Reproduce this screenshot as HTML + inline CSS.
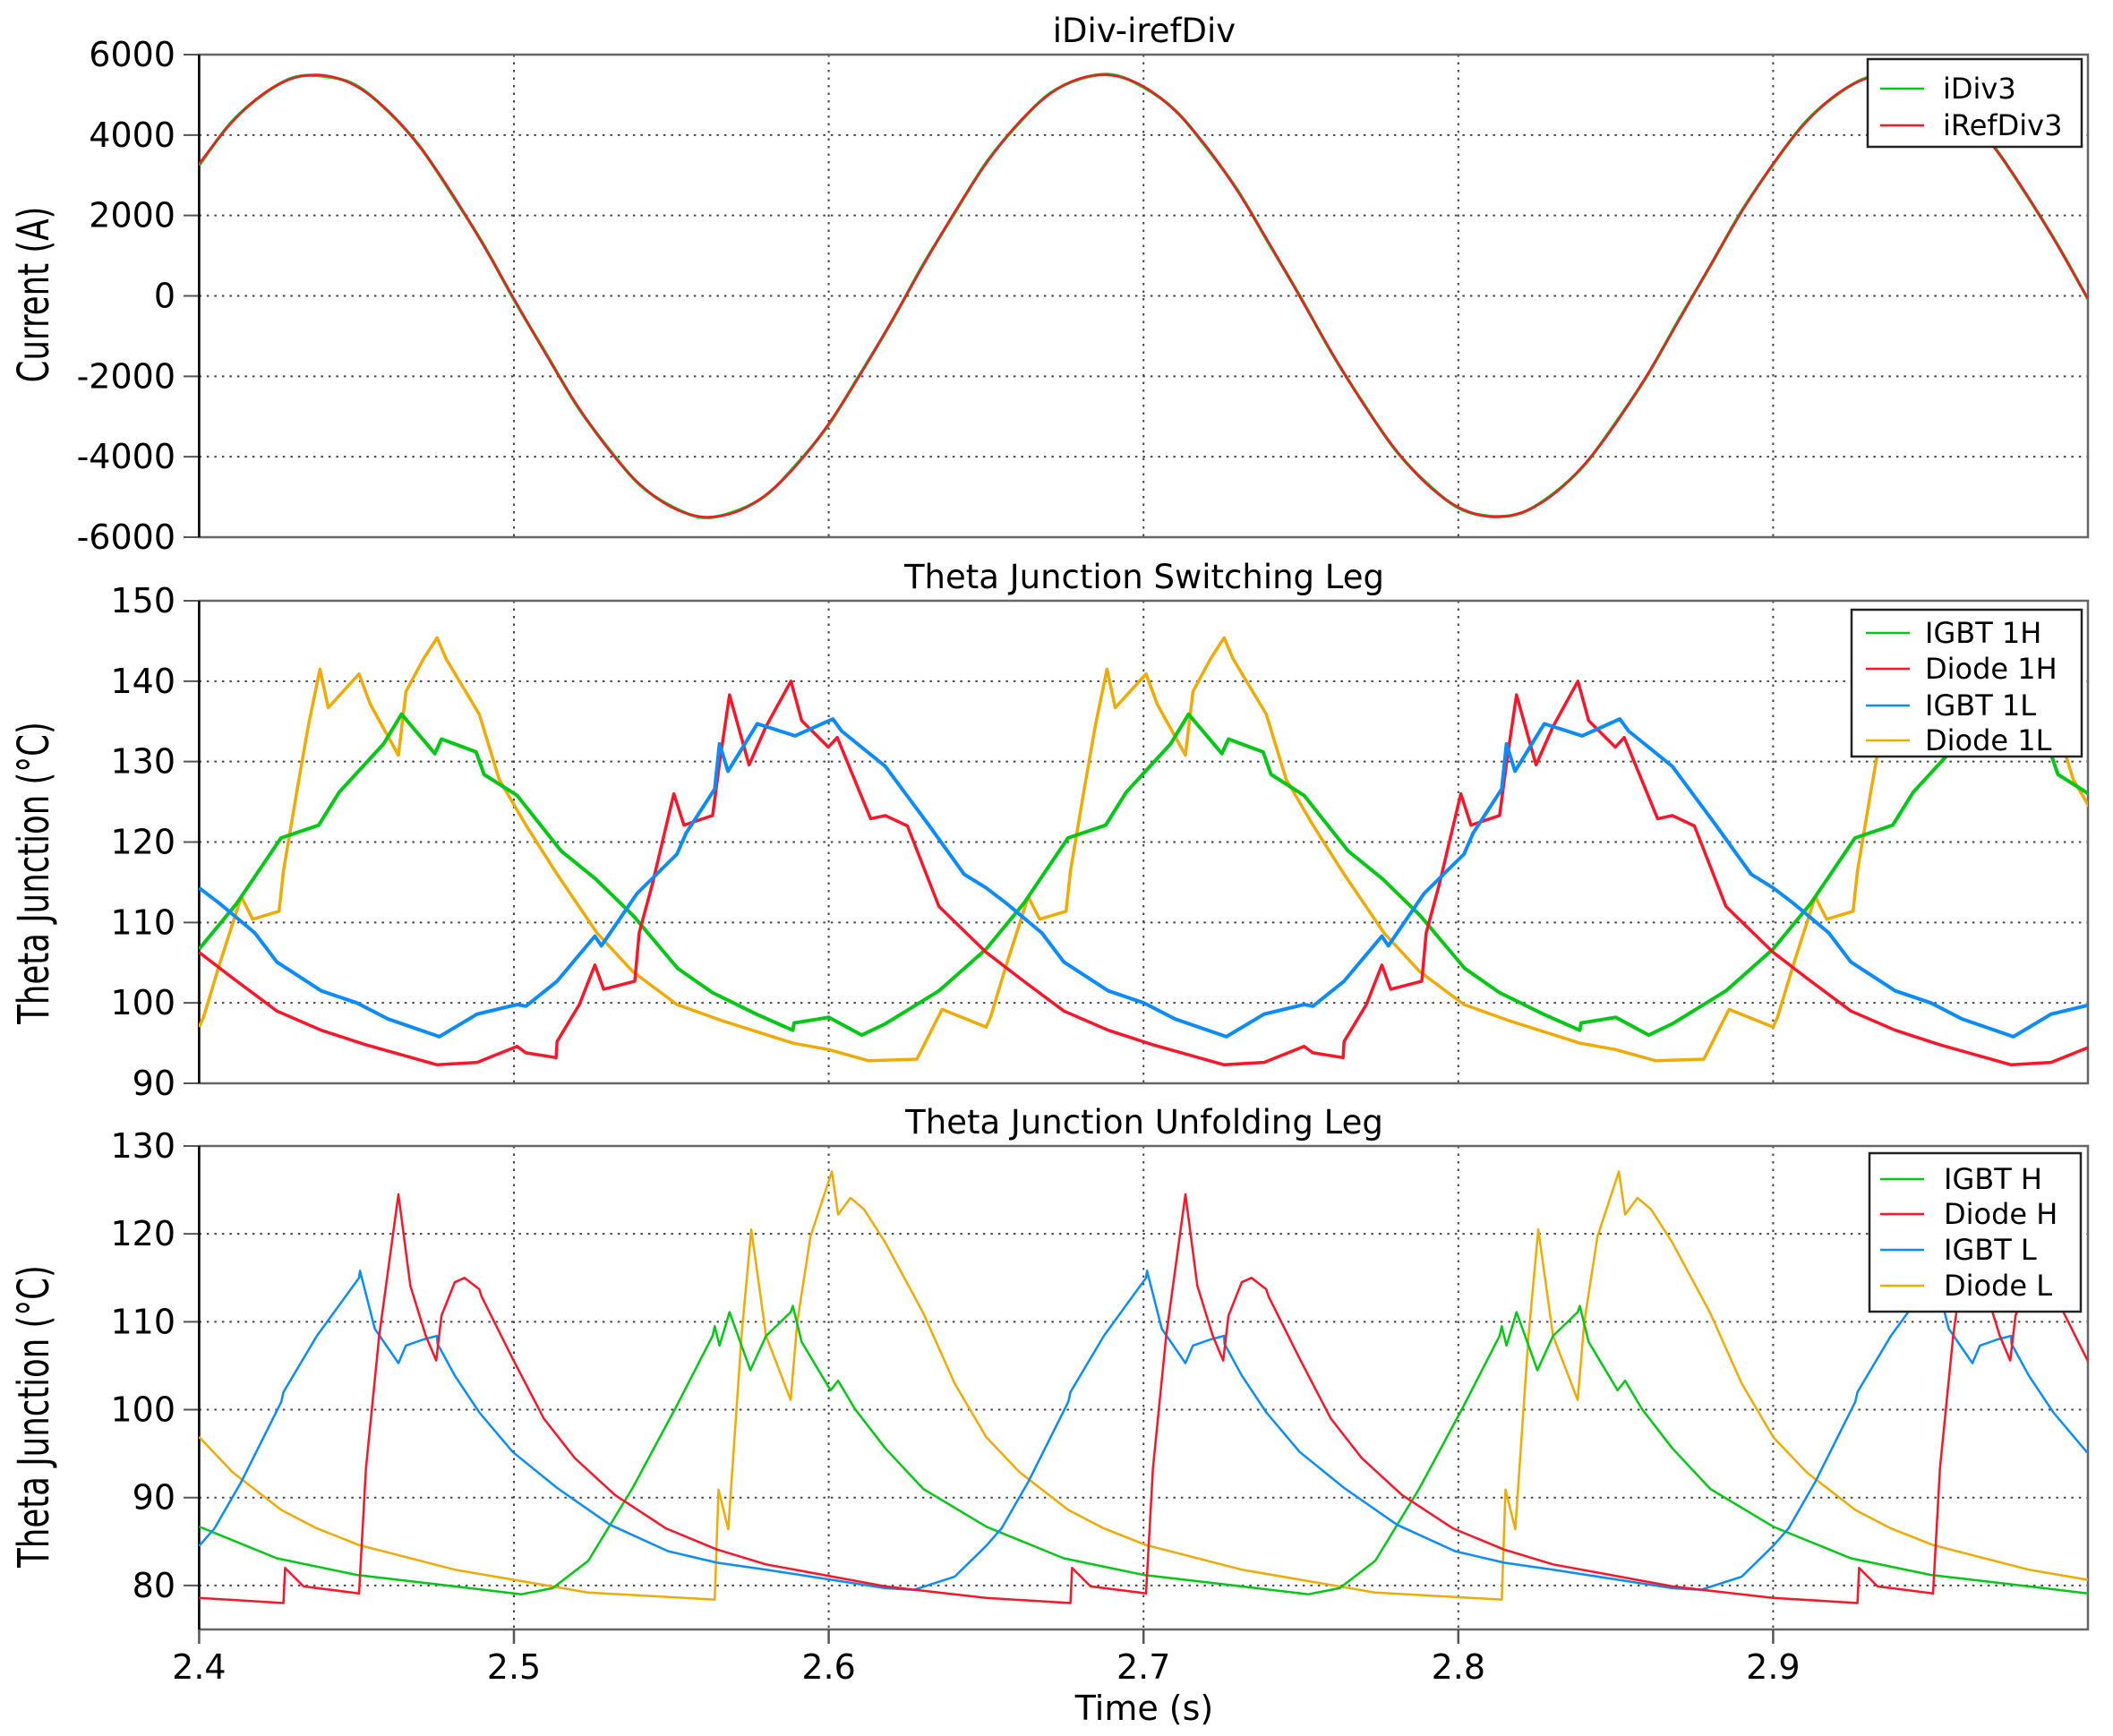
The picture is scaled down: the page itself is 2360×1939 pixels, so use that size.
<!DOCTYPE html>
<html><head><meta charset="utf-8"><style>
html,body{margin:0;padding:0;background:#fff;}
svg{display:block;}
text{font-family:"DejaVu Sans","Liberation Sans",sans-serif;fill:#000;}
</style></head><body>
<svg id="chart" xmlns="http://www.w3.org/2000/svg" width="2360" height="1939" viewBox="0 0 2360 1939">
<rect width="2360" height="1939" fill="#fff"/>
<defs>
<clipPath id="c1"><rect x="222" y="61" width="2110" height="539"/></clipPath>
<clipPath id="c2"><rect x="222" y="671" width="2110" height="539"/></clipPath>
<clipPath id="c3"><rect x="222" y="1280" width="2110" height="540"/></clipPath>
</defs>
<g id="axes"></g>
<g id="series1" clip-path="url(#c1)"></g>
<g id="series2" clip-path="url(#c2)"></g>
<g id="series3" clip-path="url(#c3)"></g>
<g id="legends"></g>
</svg>
<script>
// ---- data ----
const timeTicks = [2.4, 2.5, 2.6, 2.7, 2.8, 2.9];
const timeTickLabels = ["2.4", "2.5", "2.6", "2.7", "2.8", "2.9"];
const p1Ticks = [6000, 4000, 2000, 0, -2000, -4000, -6000];
const p2Ticks = [150, 140, 130, 120, 110, 100, 90];
const p3Ticks = [130, 120, 110, 100, 90, 80];

const currentTimes = [2.40,2.41,2.42,2.43,2.44,2.45,2.46,2.47,2.48,2.49,2.50,2.51,2.52,2.53,2.54,2.55,2.56,2.57,2.58,2.59,2.60,2.61,2.62,2.63,2.64,2.65,2.66,2.67,2.68,2.69,2.70,2.71,2.72,2.73,2.74,2.75,2.76,2.77,2.78,2.79,2.80,2.81,2.82,2.83,2.84,2.85,2.86,2.87,2.88,2.89,2.90,2.91,2.92,2.93,2.94,2.95,2.96,2.97,2.98,2.99,3.00];
const iRefDiv3 = [3290,4281,5006,5415,5484,5209,4605,3714,2588,1301,-69,-1434,-2710,-3815,-4683,-5251,-5493,-5389,-4947,-4193,-3175,-1959,-621,758,2089,3290,4281,5006,5415,5484,5209,4605,3714,2588,1301,-69,-1434,-2710,-3815,-4683,-5251,-5493,-5389,-4947,-4193,-3175,-1959,-621,758,2089,3290,4281,5006,5415,5484,5209,4605,3714,2588,1301,-69];
const iDiv3 = [3250,4300,4990,5430,5460,5230,4590,3730,2560,1320,-90,-1410,-2730,-3790,-4700,-5230,-5510,-5370,-4960,-4170,-3200,-1940,-640,780,2060,3310,4260,5020,5400,5500,5190,4620,3690,2610,1280,-50,-1450,-2690,-3830,-4660,-5270,-5480,-5400,-4930,-4210,-3150,-1980,-600,740,2110,3270,4300,4990,5430,5470,5220,4590,3730,2570,1320,-80];

const igbt1H = [[2.4,106.7],[2.412,112.4],[2.426,120.5],[2.438,122.1],[2.4445,126.2],[2.4586,132.2],[2.4643,135.9],[2.4749,131],[2.477,132.8],[2.488,131.2],[2.4905,128.4],[2.501,125.8],[2.515,118.9],[2.526,115.4],[2.538,110.8],[2.552,104.3],[2.563,101.3],[2.577,98.6],[2.5886,96.6],[2.589,97.5],[2.6,98.2],[2.6105,96],[2.618,97.4],[2.635,101.5],
[2.65,106.7],[2.662,112.4],[2.676,120.5],[2.688,122.1],[2.6945,126.2],[2.7086,132.2],[2.7143,135.9],[2.7249,131],[2.727,132.8],[2.738,131.2],[2.7405,128.4],[2.751,125.8],[2.765,118.9],[2.776,115.4],[2.788,110.8],[2.802,104.3],[2.813,101.3],[2.827,98.6],[2.8386,96.6],[2.839,97.5],[2.85,98.2],[2.8605,96],[2.868,97.4],[2.885,101.5],
[2.9,106.7],[2.912,112.4],[2.926,120.5],[2.938,122.1],[2.9445,126.2],[2.9586,132.2],[2.9643,135.9],[2.9749,131],[2.977,132.8],[2.988,131.2],[2.9905,128.4],[3.001,125.8]];
const diode1H = [[2.4,106.3],[2.4106,103.1],[2.4247,99],[2.4388,96.6],[2.453,94.8],[2.4756,92.3],[2.4883,92.6],[2.501,94.6],[2.5038,93.8],[2.5134,93.2],[2.5137,95.2],[2.5208,99.8],[2.5257,104.7],[2.5285,101.7],[2.5384,102.7],[2.5398,108.7],[2.544,114.8],[2.5508,126],[2.554,122.1],[2.5631,123.3],[2.5653,129.8],[2.5685,138.3],[2.5747,129.6],[2.58,134.3],[2.588,140],[2.5914,135.1],[2.5999,131.8],[2.6027,133],[2.6133,122.9],[2.618,123.3],[2.625,122],[2.635,112],
[2.65,106.3],[2.6606,103.1],[2.6747,99],[2.6888,96.6],[2.703,94.8],[2.7256,92.3],[2.7383,92.6],[2.751,94.6],[2.7538,93.8],[2.7634,93.2],[2.7637,95.2],[2.7708,99.8],[2.7757,104.7],[2.7785,101.7],[2.7884,102.7],[2.7898,108.7],[2.794,114.8],[2.8008,126],[2.804,122.1],[2.8131,123.3],[2.8153,129.8],[2.8185,138.3],[2.8247,129.6],[2.83,134.3],[2.838,140],[2.8414,135.1],[2.8499,131.8],[2.8527,133],[2.8633,122.9],[2.868,123.3],[2.875,122],[2.885,112],
[2.9,106.3],[2.9106,103.1],[2.9247,99],[2.9388,96.6],[2.953,94.8],[2.9756,92.3],[2.9883,92.6],[3.001,94.6]];
const igbt1L = [[2.4,114.3],[2.4064,112.4],[2.4177,108.7],[2.4247,105.1],[2.4388,101.5],[2.4501,100],[2.46,98],[2.4763,95.8],[2.4883,98.6],[2.501,99.8],[2.5038,99.6],[2.5137,102.7],[2.5257,108.3],[2.5278,107.1],[2.5391,113.6],[2.5518,118.5],[2.5547,121.1],[2.5638,126.6],[2.5653,132.2],[2.568,128.8],[2.5773,134.7],[2.5893,133.2],[2.6013,135.3],[2.6041,133.8],[2.618,129.4],[2.632,122],[2.643,116],
[2.65,114.3],[2.6564,112.4],[2.6677,108.7],[2.6747,105.1],[2.6888,101.5],[2.7001,100],[2.71,98],[2.7263,95.8],[2.7383,98.6],[2.751,99.8],[2.7538,99.6],[2.7637,102.7],[2.7757,108.3],[2.7778,107.1],[2.7891,113.6],[2.8018,118.5],[2.8047,121.1],[2.8138,126.6],[2.8153,132.2],[2.818,128.8],[2.8273,134.7],[2.8393,133.2],[2.8513,135.3],[2.8541,133.8],[2.868,129.4],[2.882,122],[2.893,116],
[2.9,114.3],[2.9064,112.4],[2.9177,108.7],[2.9247,105.1],[2.9388,101.5],[2.9501,100],[2.96,98],[2.9763,95.8],[2.9883,98.6],[3.001,99.8]];
const diode1L = [[2.4,97],[2.4014,98.2],[2.4064,104.7],[2.4134,113.2],[2.417,110.4],[2.4254,111.4],[2.4268,116.4],[2.431,126.2],[2.4346,134.3],[2.4384,141.5],[2.441,136.7],[2.4508,140.9],[2.4544,137.1],[2.4633,130.8],[2.4657,138.7],[2.4713,142.8],[2.4756,145.4],[2.4784,142.8],[2.489,135.9],[2.4953,127.8],[2.5038,122.1],[2.5137,116],[2.5264,108.7],[2.5377,103.9],[2.5518,99.8],[2.566,97.8],[2.5886,95],[2.6,94.2],[2.6127,92.8],[2.628,93],[2.636,99.2],
[2.65,97],[2.6514,98.2],[2.6564,104.7],[2.6634,113.2],[2.667,110.4],[2.6754,111.4],[2.6768,116.4],[2.681,126.2],[2.6846,134.3],[2.6884,141.5],[2.691,136.7],[2.7008,140.9],[2.7044,137.1],[2.7133,130.8],[2.7157,138.7],[2.7213,142.8],[2.7256,145.4],[2.7284,142.8],[2.739,135.9],[2.7453,127.8],[2.7538,122.1],[2.7637,116],[2.7764,108.7],[2.7877,103.9],[2.8018,99.8],[2.816,97.8],[2.8386,95],[2.85,94.2],[2.8627,92.8],[2.878,93],[2.886,99.2],
[2.9,97],[2.9014,98.2],[2.9064,104.7],[2.9134,113.2],[2.917,110.4],[2.9254,111.4],[2.9268,116.4],[2.931,126.2],[2.9346,134.3],[2.9384,141.5],[2.941,136.7],[2.9508,140.9],[2.9544,137.1],[2.9633,130.8],[2.9657,138.7],[2.9713,142.8],[2.9756,145.4],[2.9784,142.8],[2.989,135.9],[2.9953,127.8],[3.0038,122.1]];

const igbtH = [[2.4,86.7],[2.4247,83.1],[2.4501,81.2],[2.4812,79.9],[2.5024,79],[2.5123,79.7],[2.5236,82.8],[2.5377,91.1],[2.5518,100.5],[2.5631,108.4],[2.5638,109.5],[2.5653,107.3],[2.5685,111.1],[2.5751,104.5],[2.5801,108.4],[2.5879,111.1],[2.5886,111.8],[2.5914,107.7],[2.6006,102.2],[2.603,103.3],[2.6083,100.1],[2.618,95.6],[2.63,91],
[2.65,86.7],[2.6747,83.1],[2.7001,81.2],[2.7312,79.9],[2.7524,79],[2.7623,79.7],[2.7736,82.8],[2.7877,91.1],[2.8018,100.5],[2.8131,108.4],[2.8138,109.5],[2.8153,107.3],[2.8185,111.1],[2.8251,104.5],[2.8301,108.4],[2.8379,111.1],[2.8386,111.8],[2.8414,107.7],[2.8506,102.2],[2.853,103.3],[2.8583,100.1],[2.868,95.6],[2.88,91],
[2.9,86.7],[2.9247,83.1],[2.9501,81.2],[2.9812,79.9],[3.0024,79]];
const diodeH = [[2.4,78.6],[2.4268,78],[2.4273,82],[2.4332,79.9],[2.4508,79.1],[2.453,93.3],[2.4572,108.4],[2.4633,124.5],[2.4671,114.1],[2.472,108.4],[2.4753,105.6],[2.477,110.7],[2.4812,114.5],[2.4843,115],[2.489,113.7],[2.4897,112.9],[2.4996,105.8],[2.5095,99],[2.5193,94.5],[2.5321,90.3],[2.5483,86.5],[2.5645,84.1],[2.5801,82.4],[2.5999,81.1],[2.618,79.9],[2.635,79.2],
[2.65,78.6],[2.6768,78],[2.6773,82],[2.6832,79.9],[2.7008,79.1],[2.703,93.3],[2.7072,108.4],[2.7133,124.5],[2.7171,114.1],[2.722,108.4],[2.7253,105.6],[2.727,110.7],[2.7312,114.5],[2.7343,115],[2.739,113.7],[2.7397,112.9],[2.7496,105.8],[2.7595,99],[2.7693,94.5],[2.7821,90.3],[2.7983,86.5],[2.8145,84.1],[2.8301,82.4],[2.8499,81.1],[2.868,79.9],[2.885,79.2],
[2.9,78.6],[2.9268,78],[2.9273,82],[2.9332,79.9],[2.9508,79.1],[2.953,93.3],[2.9572,108.4],[2.9633,124.5],[2.9671,114.1],[2.972,108.4],[2.9753,105.6],[2.977,110.7],[2.9812,114.5],[2.9843,115],[2.989,113.7],[2.9897,112.9],[2.9996,105.8],[3.0095,99]];
const igbtL = [[2.4,84.5],[2.4049,86.5],[2.4134,91.8],[2.4261,100.9],[2.4268,102],[2.4374,108.4],[2.4508,115],[2.4511,115.8],[2.4558,109.2],[2.4633,105.3],[2.4657,107.3],[2.4713,108],[2.4756,108.4],[2.4757,107.5],[2.4812,103.9],[2.489,99.7],[2.4996,95.2],[2.5137,91.1],[2.5306,86.9],[2.549,83.9],[2.5645,82.6],[2.5801,81.8],[2.5999,80.7],[2.618,79.7],[2.627,79.5],[2.64,81],
[2.65,84.5],[2.6549,86.5],[2.6634,91.8],[2.6761,100.9],[2.6768,102],[2.6874,108.4],[2.7008,115],[2.7011,115.8],[2.7058,109.2],[2.7133,105.3],[2.7157,107.3],[2.7213,108],[2.7256,108.4],[2.7257,107.5],[2.7312,103.9],[2.739,99.7],[2.7496,95.2],[2.7637,91.1],[2.7806,86.9],[2.799,83.9],[2.8145,82.6],[2.8301,81.8],[2.8499,80.7],[2.868,79.7],[2.877,79.5],[2.89,81],
[2.9,84.5],[2.9049,86.5],[2.9134,91.8],[2.9261,100.9],[2.9268,102],[2.9374,108.4],[2.9508,115],[2.9511,115.8],[2.9558,109.2],[2.9633,105.3],[2.9657,107.3],[2.9713,108],[2.9756,108.4],[2.9757,107.5],[2.9812,103.9],[2.989,99.7],[2.9996,95.2],[3.0137,91.1]];
const diodeL = [[2.4,96.9],[2.4106,92.9],[2.4261,88.6],[2.4374,86.5],[2.4508,84.6],[2.4812,81.8],[2.5024,80.5],[2.5236,79.2],[2.5638,78.4],[2.565,90.9],[2.5681,86.4],[2.5723,108.4],[2.5754,120.5],[2.5801,108.4],[2.5879,101.1],[2.59,109.9],[2.5942,119.7],[2.601,127.1],[2.603,122.2],[2.6069,124.1],[2.6112,122.8],[2.618,119],[2.63,111],[2.64,103],
[2.65,96.9],[2.6606,92.9],[2.6761,88.6],[2.6874,86.5],[2.7008,84.6],[2.7312,81.8],[2.7524,80.5],[2.7736,79.2],[2.8138,78.4],[2.815,90.9],[2.8181,86.4],[2.8223,108.4],[2.8254,120.5],[2.8301,108.4],[2.8379,101.1],[2.84,109.9],[2.8442,119.7],[2.851,127.1],[2.853,122.2],[2.8569,124.1],[2.8612,122.8],[2.868,119],[2.88,111],[2.89,103],
[2.9,96.9],[2.9106,92.9],[2.9261,88.6],[2.9374,86.5],[2.9508,84.6],[2.9812,81.8],[3.0024,80.5]];

// ---- axes ----
const NS = "http://www.w3.org/2000/svg";
const X0 = 222.4, X1 = 2332;
function xs(t){ return X0 + (t - 2.4) * (X1 - X0) / 0.6; }
const panels = [
  {top:61, bot:600, vmax:6000, vmin:-6000},
  {top:671, bot:1210, vmax:150, vmin:90},
  {top:1280, bot:1820, vmax:130, vmin:75}
];
function ys(p, v){ const P = panels[p]; return P.top + (P.vmax - v) * (P.bot - P.top) / (P.vmax - P.vmin); }
function mk(tag, attrs, parent){ const e = document.createElementNS(NS, tag); for (const k in attrs) e.setAttribute(k, attrs[k]); parent.appendChild(e); return e; }

const axes = document.getElementById('axes');
const tickSets = [p1Ticks, p2Ticks, p3Ticks];
const titles = ["iDiv-irefDiv", "Theta Junction Switching Leg", "Theta Junction Unfolding Leg"];
const titleNames = ["current-chart-title", "switching-leg-title", "unfolding-leg-title"];
const yTitles = ["Current (A)", "Theta Junction (°C)", "Theta Junction (°C)"];
const yTitleY = [329, 975, 1582];
for (let p = 0; p < 3; p++) {
  const P = panels[p];
  timeTicks.slice(1).forEach(t => {
    const g = mk('line', {x1:xs(t), x2:xs(t), y1:P.top, y2:P.bot, stroke:'#444', 'stroke-width':2, 'stroke-dasharray':'2.5 6'}, axes);
    
    
  });
  tickSets[p].forEach(v => {
    const y = ys(p, v);
    if (y > P.top + 1 && y < P.bot - 1) {
      const g = mk('line', {x1:X0, x2:X1, y1:y, y2:y, stroke:'#444', 'stroke-width':2, 'stroke-dasharray':'2.5 6'}, axes);
      
      
    }
    const tk = mk('line', {x1:205, x2:X0, y1:y, y2:y, stroke:'#555', 'stroke-width':2}, axes);
    
    
    const lb = mk('text', {x:196, y:y, 'text-anchor':'end', 'dominant-baseline':'central', 'font-size':38}, axes);
    lb.textContent = String(v);
    
    
  });
  const fr = mk('rect', {x:X0, y:P.top, width:X1 - X0, height:P.bot - P.top, fill:'none', stroke:'#666', 'stroke-width':2.5}, axes);
  
  
  const la = mk('line', {x1:X0, x2:X0, y1:P.top, y2:P.bot, stroke:'#000', 'stroke-width':2.5}, axes);
  
  
  const tt = mk('text', {x:1278, y:P.top - 14, 'text-anchor':'middle', 'font-size':37}, axes);
  tt.textContent = titles[p];
  
  
  const yt = mk('text', {x:0, y:0, 'text-anchor':'middle', 'font-size':48, transform:`translate(54 ${yTitleY[p]}) rotate(-90) scale(0.74 1)`}, axes);
  yt.textContent = yTitles[p];
  
  
}
timeTicks.forEach((t, i) => {
  const tk = mk('line', {x1:xs(t), x2:xs(t), y1:1820, y2:1836, stroke:'#555', 'stroke-width':2.5}, axes);
  
  
  const lb = mk('text', {x:xs(t), y:1875, 'text-anchor':'middle', 'font-size':38}, axes);
  lb.textContent = timeTickLabels[i];
  
  
});
const xt = mk('text', {x:1278, y:1921, 'text-anchor':'middle', 'font-size':38}, axes);
xt.textContent = "Time (s)";



// ---- series ----
function smoothPath(pts){
  let d = `M${pts[0][0]},${pts[0][1]}`;
  for (let i = 0; i < pts.length - 1; i++) {
    const p0 = pts[Math.max(0, i - 1)], p1 = pts[i], p2 = pts[i + 1], p3 = pts[Math.min(pts.length - 1, i + 2)];
    const c1 = [p1[0] + (p2[0] - p0[0]) / 6, p1[1] + (p2[1] - p0[1]) / 6];
    const c2 = [p2[0] - (p3[0] - p1[0]) / 6, p2[1] - (p3[1] - p1[1]) / 6];
    d += ` C${c1[0].toFixed(1)},${c1[1].toFixed(1)} ${c2[0].toFixed(1)},${c2[1].toFixed(1)} ${p2[0].toFixed(1)},${p2[1].toFixed(1)}`;
  }
  return d;
}
const s1 = document.getElementById('series1');
const pg = mk('path', {d:smoothPath(currentTimes.map((t, i) => [xs(t), ys(0, iDiv3[i])])), fill:'none', stroke:'#00c814', 'stroke-width':3.5}, s1);


const pr = mk('path', {d:smoothPath(currentTimes.map((t, i) => [xs(t), ys(0, iRefDiv3[i])])), fill:'none', stroke:'#ff1428', 'stroke-width':2.5}, s1);



function poly(p, data, color, w, parent){
  return mk('polyline', {points:data.map(d => xs(d[0]).toFixed(1) + ',' + ys(p, d[1]).toFixed(1)).join(' '), fill:'none', stroke:color, 'stroke-width':w, 'stroke-linejoin':'round'}, parent);
}
const C = {g:'#00c814', r:'#ff1428', b:'#0a8cff', o:'#f0aa00'};
const s2 = document.getElementById('series2');
let e;
e = poly(1, diode1L, C.o, 3.5, s2);  
e = poly(1, igbt1H, C.g, 4, s2);  
e = poly(1, diode1H, C.r, 3.5, s2);  
e = poly(1, igbt1L, C.b, 4, s2);  
const s3 = document.getElementById('series3');
e = poly(2, diodeL, C.o, 2.5, s3);  
e = poly(2, igbtH, C.g, 2.5, s3);  
e = poly(2, igbtL, C.b, 2.5, s3);  
e = poly(2, diodeH, C.r, 2.5, s3);  

// ---- legends ----
const lg = document.getElementById('legends');
const legendBoxes = [
  {x:2086, y:66, w:239, h:98, lx:2100, tx:2170, ys:[99,140], labels:["iDiv3","iRefDiv3"], colors:[C.g, C.r], name:'current-legend'},
  {x:2068, y:681, w:257, h:164, lx:2084, tx:2150, ys:[707,747,788,827], labels:["IGBT 1H","Diode 1H","IGBT 1L","Diode 1L"], colors:[C.g, C.r, C.b, C.o], name:'switching-leg-legend'},
  {x:2088, y:1288, w:236, h:177, lx:2100, tx:2171, ys:[1317,1356,1396,1436], labels:["IGBT H","Diode H","IGBT L","Diode L"], colors:[C.g, C.r, C.b, C.o], name:'unfolding-leg-legend'}
];
legendBoxes.forEach(L => {
  const g = mk('g', {}, lg);
  
  
  mk('rect', {x:L.x, y:L.y, width:L.w, height:L.h, fill:'#fff', stroke:'#222', 'stroke-width':2.5}, g);
  L.labels.forEach((lab, i) => {
    const ln = mk('line', {x1:L.lx, x2:L.lx + 49, y1:L.ys[i], y2:L.ys[i], stroke:L.colors[i], 'stroke-width':2.5}, g);
    
    
    const tx = mk('text', {x:L.tx, y:L.ys[i], 'dominant-baseline':'central', 'font-size':32}, g);
    tx.textContent = lab;
    
    
  });
});
</script>
</body></html>
